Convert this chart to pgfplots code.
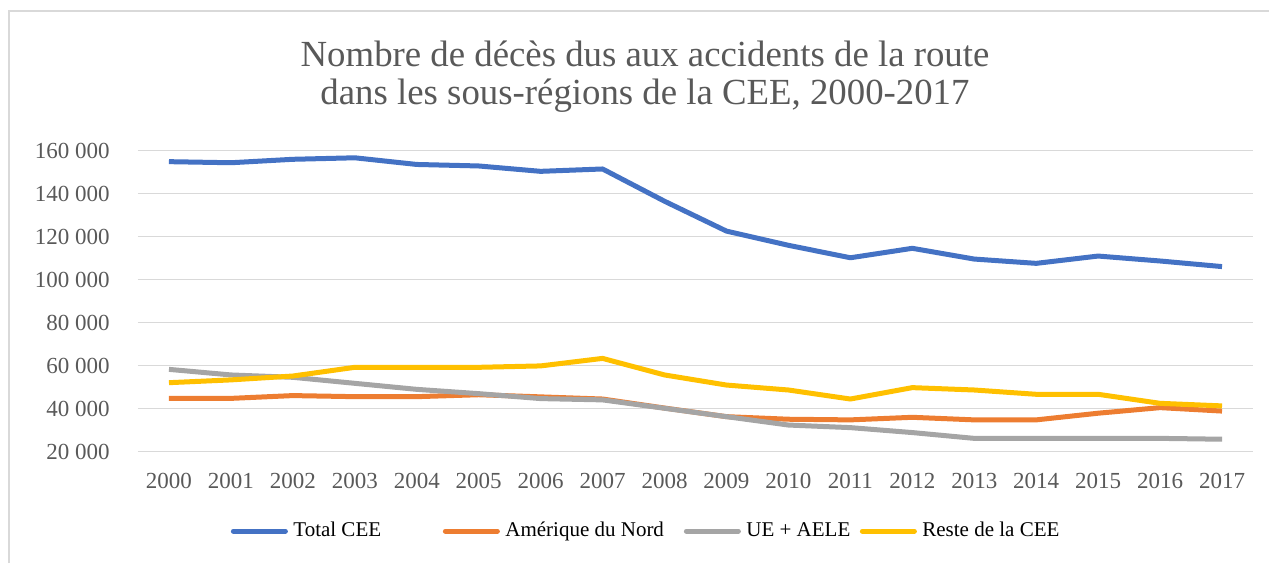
\documentclass[border=0pt]{standalone}
\usepackage{pgfplots}
\pgfplotsset{compat=1.18}
\usepackage{fontspec}
\setmainfont{Liberation Serif}
\definecolor{cBlue}{HTML}{4472C4}
\definecolor{cOrange}{HTML}{ED7D31}
\definecolor{cGray}{HTML}{A5A5A5}
\definecolor{cYellow}{HTML}{FFC000}
\definecolor{cText}{HTML}{595959}
\definecolor{cGrid}{HTML}{D9D9D9}
\begin{document}
\begin{tikzpicture}
\useasboundingbox (0,0) rectangle (634.5pt,281.5pt);
\draw[cGrid, line width=0.6pt] (4.5pt,0pt) -- (4.5pt,276pt) -- (634.5pt,276pt);
\node[anchor=base, text=cText, font=\fontsize{18.4}{22}\selectfont] at (322.5pt,248.25pt) {Nombre de décès dus aux accidents de la route};
\node[anchor=base, text=cText, font=\fontsize{18.4}{22}\selectfont] at (322.5pt,229pt) {dans les sous-régions de la CEE, 2000-2017};
\begin{axis}[
  at={(69pt,55.65pt)}, anchor=south west,
  width=557.5pt, height=150.5pt, scale only axis,
  xmin=-0.5, xmax=17.5, ymin=20000, ymax=160000,
  scaled y ticks=false,
  xtick={0,...,17},
  xticklabels={2000,2001,2002,2003,2004,2005,2006,2007,2008,2009,2010,2011,2012,2013,2014,2015,2016,2017},
  ytick={20000,40000,60000,80000,100000,120000,140000,160000},
  yticklabels={20 000,40 000,60 000,80 000,100 000,120 000,140 000,160 000},
  axis line style={draw=none},
  major tick length=0pt,
  ymajorgrids, grid style={cGrid, line width=0.75pt},
  tick label style={text=cText, font=\fontsize{11.5}{13}\selectfont, inner sep=0pt},
  yticklabel style={anchor=east, xshift=-14pt},
  xticklabel style={anchor=north, yshift=-10.5pt},
  clip=false,
  legend columns=4,
  legend style={draw=none, fill=none, at={(0.0807,-0.2635)}, anchor=west,
    inner sep=0pt, column sep=0pt,
    nodes={inner sep=0pt, anchor=west, font=\fontsize{10.5}{12}\selectfont, text=black}},
  legend image code/.code={
    \draw[#1, line width=2.5pt, line cap=round] (1.25pt,0pt) -- (27.25pt,0pt);
    \path (0pt,0pt) (28.5pt,0pt);},
  every axis plot/.append style={line width=2.5pt, line join=round, mark=none},
]
\addplot[cBlue] coordinates {(0,154900)(1,154400)(2,156000)(3,156700)(4,153600)(5,152900)(6,150400)(7,151500)(8,136500)(9,122600)(10,116000)(11,110200)(12,114600)(13,109600)(14,107600)(15,111000)(16,108700)(17,106100)};
\addlegendentry{\makebox[75pt][l]{\hspace{1.5pt}Total CEE}}
\addplot[cOrange] coordinates {(0,44800)(1,44800)(2,46100)(3,45600)(4,45600)(5,46500)(6,45500)(7,44500)(8,40300)(9,36300)(10,35100)(11,34800)(12,36000)(13,34800)(14,34800)(15,37900)(16,40500)(17,38900)};
\addlegendentry{\makebox[89.5pt][l]{\hspace{1.5pt}Amérique du Nord}}
\addplot[cGray] coordinates {(0,58300)(1,55700)(2,54600)(3,51800)(4,49000)(5,47000)(6,44700)(7,44100)(8,40200)(9,36300)(10,32400)(11,31200)(12,28900)(13,26200)(14,26200)(15,26200)(16,26200)(17,25800)};
\addlegendentry{\makebox[57pt][l]{\hspace{1.5pt}UE + AELE}}
\addplot[cYellow] coordinates {(0,52100)(1,53400)(2,55200)(3,59250)(4,59250)(5,59250)(6,59900)(7,63400)(8,55700)(9,51000)(10,48700)(11,44500)(12,49800)(13,48700)(14,46700)(15,46700)(16,42500)(17,41300)};
\addlegendentry{\hspace{1.5pt}Reste de la CEE}
\end{axis}
\end{tikzpicture}
\end{document}
